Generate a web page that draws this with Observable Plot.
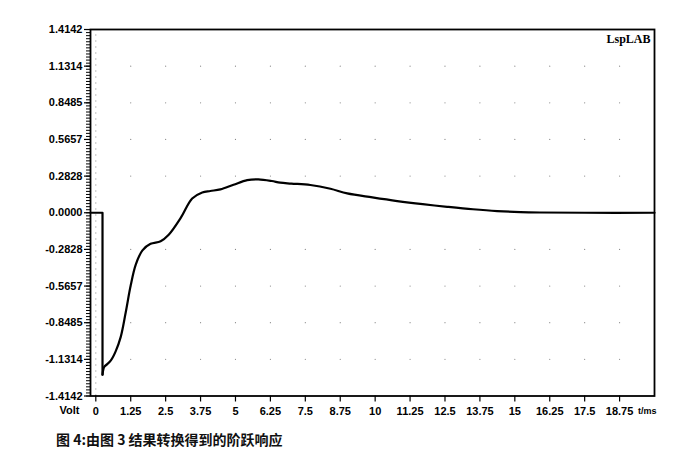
<!DOCTYPE html>
<html>
<head>
<meta charset="utf-8">
<script src="https://cdn.jsdelivr.net/npm/d3@7"></script>
<script src="https://cdn.jsdelivr.net/npm/@observablehq/plot@0.6"></script>
<style>
  body { margin: 0; background: #fff; width: 683px; height: 466px; position: relative; overflow: hidden; }
  #chart { position: absolute; left: 0; top: 0; }
  #caption { position: absolute; left: 56px; top: 429px; font-family: "Noto Sans CJK SC", sans-serif; font-size: 14px; font-weight: bold; color: #111; white-space: pre; }
</style>
</head>
<body>
<div id="chart"></div>
<div id="caption"></div>
<script>
// ---- data ----
const timeMs = [-0.19, 0.24, 0.24, 0.30, 0.40, 0.54, 0.71, 0.89, 1.07, 1.25, 1.43, 1.67, 1.96, 2.32, 2.61, 3.04, 3.45, 3.81, 4.10, 4.46, 4.93, 5.42, 5.82, 6.30, 6.60, 7.00, 7.68, 8.40, 9.00, 9.90, 10.79, 11.70, 12.58, 13.50, 14.37, 15.20, 15.90, 17.50, 20.00];
const volt   = [0.000, 0.000, -1.250, -1.190, -1.170, -1.140, -1.070, -0.960, -0.770, -0.560, -0.400, -0.290, -0.240, -0.220, -0.170, -0.040, 0.110, 0.157, 0.168, 0.180, 0.216, 0.252, 0.258, 0.245, 0.232, 0.225, 0.214, 0.185, 0.149, 0.118, 0.090, 0.066, 0.046, 0.027, 0.013, 0.005, 0.002, 0.000, 0.000];

const yTicks = [-1.4142, -1.1314, -0.8485, -0.5657, -0.2828, 0, 0.2828, 0.5657, 0.8485, 1.1314, 1.4142];
const yTickLabels = ["-1.4142", "-1.1314", "-0.8485", "-0.5657", "-0.2828", "0.0000", "0.2828", "0.5657", "0.8485", "1.1314", "1.4142"];
const xTicks = [0, 1.25, 2.5, 3.75, 5, 6.25, 7.5, 8.75, 10, 11.25, 12.5, 13.75, 15, 16.25, 17.5, 18.75];
const xTickLabels = ["0", "1.25", "2.5", "3.75", "5", "6.25", "7.5", "8.75", "10", "11.25", "12.5", "13.75", "15", "16.25", "17.5", "18.75"];
const yAxisName = "Volt";
const xAxisUnit = "t/ms";
const brand = "LspLAB";
const captionText = "图 4:由图 3 结果转换得到的阶跃响应";

// ---- build ----
const data = timeMs.map((t, i) => ({t, v: volt[i]}));
const stepPart = data.slice(0, 3);   // flat start + vertical drop (sharp corners)
const smoothPart = data.slice(2);    // smooth recovery
const gridPts = xTicks.slice(1).flatMap(x => yTicks.slice(1, -1).filter(y => y !== 0).map(y => ({x, y})));
const minorY = d3.range(-1.4142, 1.4142 + 1e-9, 0.2828 / 12);

const chart = Plot.plot({
  width: 683,
  height: 425,
  marginLeft: 90,
  marginRight: 29,
  marginTop: 29,
  marginBottom: 29.5,
  style: {fontFamily: "Liberation Sans, Arial, sans-serif", fontSize: "11px", fontWeight: "bold", color: "#000", background: "#fff"},
  x: {domain: [-0.19, 20]},
  y: {domain: [-1.4142, 1.4142]},
  marks: [
    Plot.dot(gridPts, {x: "x", y: "y", r: 0.6, fill: "#888", stroke: null}),
    Plot.ruleX([0], {y1: -1.4142, y2: 1.4142, stroke: "#888", strokeDasharray: "1,5", strokeWidth: 1}),
    Plot.axisY({ticks: minorY, tickSize: 4, text: null, label: null, strokeWidth: 1}),
    Plot.axisY({ticks: yTicks, tickSize: 6, tickPadding: 2, tickFormat: d => yTickLabels[yTicks.indexOf(d)], strokeWidth: 1.2, label: null}),
    Plot.axisX({ticks: xTicks, tickSize: 6, tickPadding: 5, tickFormat: d => xTickLabels[xTicks.indexOf(d)], strokeWidth: 1.2, label: null}),
    Plot.text([yAxisName], {frameAnchor: "bottom-left", dx: -31, dy: 18, fontSize: 11, fontWeight: "bold", textAnchor: "start"}),
    Plot.text([xAxisUnit], {frameAnchor: "bottom-right", dx: 2, dy: 18, fontSize: 9, fontWeight: "bold", textAnchor: "end"}),
    Plot.text([brand], {frameAnchor: "top-right", dx: -4, dy: 5, fontSize: 12, fontWeight: "bold", fontFamily: "Liberation Serif, serif", textAnchor: "end"}),
    Plot.frame({stroke: "#000", strokeWidth: 1.8}),
    Plot.line(stepPart, {x: "t", y: "v", stroke: "#000", strokeWidth: 2.2, curve: "linear"}),
    Plot.line(smoothPart, {x: "t", y: "v", stroke: "#000", strokeWidth: 2.2, curve: "catmull-rom"})
  ]
});
document.getElementById("chart").appendChild(chart);
document.getElementById("caption").textContent = captionText;
</script>
</body>
</html>
